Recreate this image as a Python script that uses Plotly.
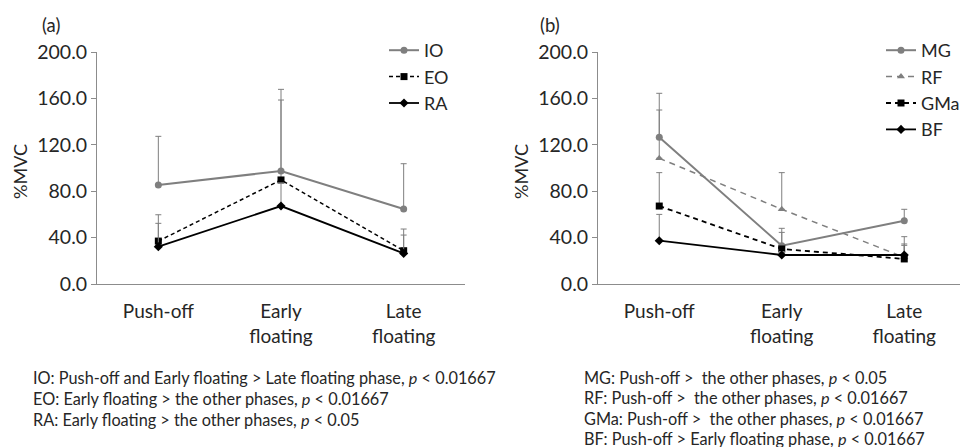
import plotly.graph_objects as go

phases = ["Push-off", "Early floating", "Late floating"]
phase_ticks = ["Push-off", "Early<br>floating", "Late<br>floating"]
y_ticks = [0, 40, 80, 120, 160, 200]
y_ticklabels = ["0.0", "40.0", "80.0", "120.0", "160.0", "200.0"]

# Panel (a) trunk muscles: mean and SD (%MVC)
io_mean = [85.3, 97.4, 64.7]
io_sd = [42.0, 70.4, 39.0]
eo_mean = [37.0, 89.7, 28.7]
eo_sd = [15.3, 68.9, 13.5]
ra_mean = [32.2, 67.2, 26.4]
ra_sd = [27.5, 20.0, 21.0]

# Panel (b) lower-limb muscles
mg_mean = [126.5, 33.0, 54.6]
mg_sd = [37.9, 15.0, 9.8]
rf_mean = [108.4, 64.4, 23.0]
rf_sd = [41.6, 31.6, 17.8]
gma_mean = [67.2, 30.2, 21.6]
gma_sd = [28.8, 14.3, 12.9]
bf_mean = [37.3, 25.0, 25.0]
bf_sd = [22.7, 3.0, 8.3]

notes_a = [
    "IO: Push-off and Early floating > Late floating phase, <i>p</i> < 0.01667",
    "EO: Early floating > the other phases, <i>p</i> < 0.01667",
    "RA: Early floating > the other phases, <i>p</i> < 0.05",
]
notes_b = [
    "MG: Push-off >  the other phases, <i>p</i> < 0.05",
    "RF: Push-off >  the other phases, <i>p</i> < 0.01667",
    "GMa: Push-off >  the other phases, <i>p</i> < 0.01667",
    "BF: Push-off > Early floating phase, <i>p</i> < 0.01667",
]

FONT = "Lato"
GRAY = "#7f7f7f"
DARK = "#262626"
W, H = 960, 447

def px_x(x):
    return x / W

def px_y(y):
    return 1 - y / H

fig = go.Figure()

def add_series(name, mean, sd, color, dash, symbol, msize, lw, xa, ya, legend):
    fig.add_trace(go.Scatter(
        x=phases, y=mean, name=name, mode="lines+markers",
        xaxis=xa, yaxis=ya, legend=legend, legendgroup=name,
        line=dict(color=color, width=lw, dash=dash),
        marker=dict(symbol=symbol, size=msize, color=color),
        error_y=dict(type="data", array=sd, symmetric=False, arrayminus=[0, 0, 0],
                     color=GRAY, thickness=1, width=3),
    ))

add_series("IO", io_mean, io_sd, GRAY, "solid", "circle", 7, 2, "x", "y", "legend")
add_series("EO", eo_mean, eo_sd, "black", "4px,3px", "square", 7, 1.5, "x", "y", "legend")
add_series("RA", ra_mean, ra_sd, "black", "solid", "diamond", 7, 1.8, "x", "y", "legend")

add_series("MG", mg_mean, mg_sd, GRAY, "solid", "circle", 7, 2, "x2", "y2", "legend2")
add_series("RF", rf_mean, rf_sd, GRAY, "6px,5px", "triangle-up", 7, 1.5, "x2", "y2", "legend2")
add_series("GMa", gma_mean, gma_sd, "black", "5px,4px", "square", 7, 1.8, "x2", "y2", "legend2")
add_series("BF", bf_mean, bf_sd, "black", "solid", "diamond", 7, 1.8, "x2", "y2", "legend2")

ydom = [px_y(284), px_y(52)]
xcommon = dict(
    type="category", tickvals=phases, ticktext=phase_ticks, automargin=False,
    showline=True, linecolor="#8c8c8c", linewidth=1, showgrid=False, zeroline=False,
    ticks="outside", ticklen=10, tickcolor="rgba(0,0,0,0)",
    tickfont=dict(family=FONT, size=19, color=DARK),
)
ycommon = dict(
    range=[0, 200], tickvals=y_ticks, ticktext=y_ticklabels, automargin=False,
    showline=True, linecolor="#8c8c8c", linewidth=1, showgrid=False, zeroline=False,
    ticks="outside", ticklen=5, tickcolor="#8c8c8c",
    tickfont=dict(family=FONT, size=19.5, color=DARK), domain=ydom,
)

fig.update_layout(
    template=go.layout.Template(),
    width=W, height=H, margin=dict(l=0, r=0, t=0, b=0, autoexpand=False),
    paper_bgcolor="white", plot_bgcolor="white",
    font=dict(family=FONT, color=DARK),
    xaxis=dict(xcommon, domain=[px_x(97), px_x(465)], range=[-0.5, 2.5], anchor="y"),
    yaxis=dict(ycommon, anchor="x"),
    xaxis2=dict(xcommon, domain=[px_x(598), 1.0], range=[-0.5, 2.455], anchor="y2"),
    yaxis2=dict(ycommon, anchor="x2"),
    legend=dict(x=px_x(384), y=px_y(32), xanchor="left", yanchor="top",
                font=dict(family=FONT, size=18, color=DARK), bgcolor="rgba(0,0,0,0)",
                tracegroupgap=0),
    legend2=dict(x=px_x(881), y=px_y(32), xanchor="left", yanchor="top",
                 font=dict(family=FONT, size=18, color=DARK), bgcolor="rgba(0,0,0,0)",
                 tracegroupgap=0),
    showlegend=True,
)

ann = []
ann.append(dict(text="(a)", x=px_x(40), y=px_y(25), xref="paper", yref="paper",
                xanchor="left", yanchor="middle", showarrow=False,
                font=dict(family=FONT, size=18.5, color=DARK)))
ann.append(dict(text="(b)", x=px_x(538), y=px_y(25), xref="paper", yref="paper",
                xanchor="left", yanchor="middle", showarrow=False,
                font=dict(family=FONT, size=18.5, color=DARK)))
for xc in (20, 521):
    ann.append(dict(text="%MVC", x=px_x(xc), y=px_y(172), xref="paper", yref="paper",
                    xanchor="center", yanchor="middle", textangle=-90, showarrow=False,
                    font=dict(family=FONT, size=18, color=DARK)))
for i, t in enumerate(notes_a):
    ann.append(dict(text=t, x=px_x(31), y=px_y(377 + 21 * i), xref="paper", yref="paper",
                    xanchor="left", yanchor="middle", showarrow=False,
                    font=dict(family=FONT, size=16.3, color=DARK)))
for i, t in enumerate(notes_b):
    ann.append(dict(text=t, x=px_x(582), y=px_y(377 + 20.5 * i), xref="paper", yref="paper",
                    xanchor="left", yanchor="middle", showarrow=False,
                    font=dict(family=FONT, size=16.3, color=DARK)))
fig.update_layout(annotations=ann)

fig.write_html("out.html", config={"displayModeBar": False},
               post_script="document.body.style.margin='0';document.body.style.overflow='hidden';")
